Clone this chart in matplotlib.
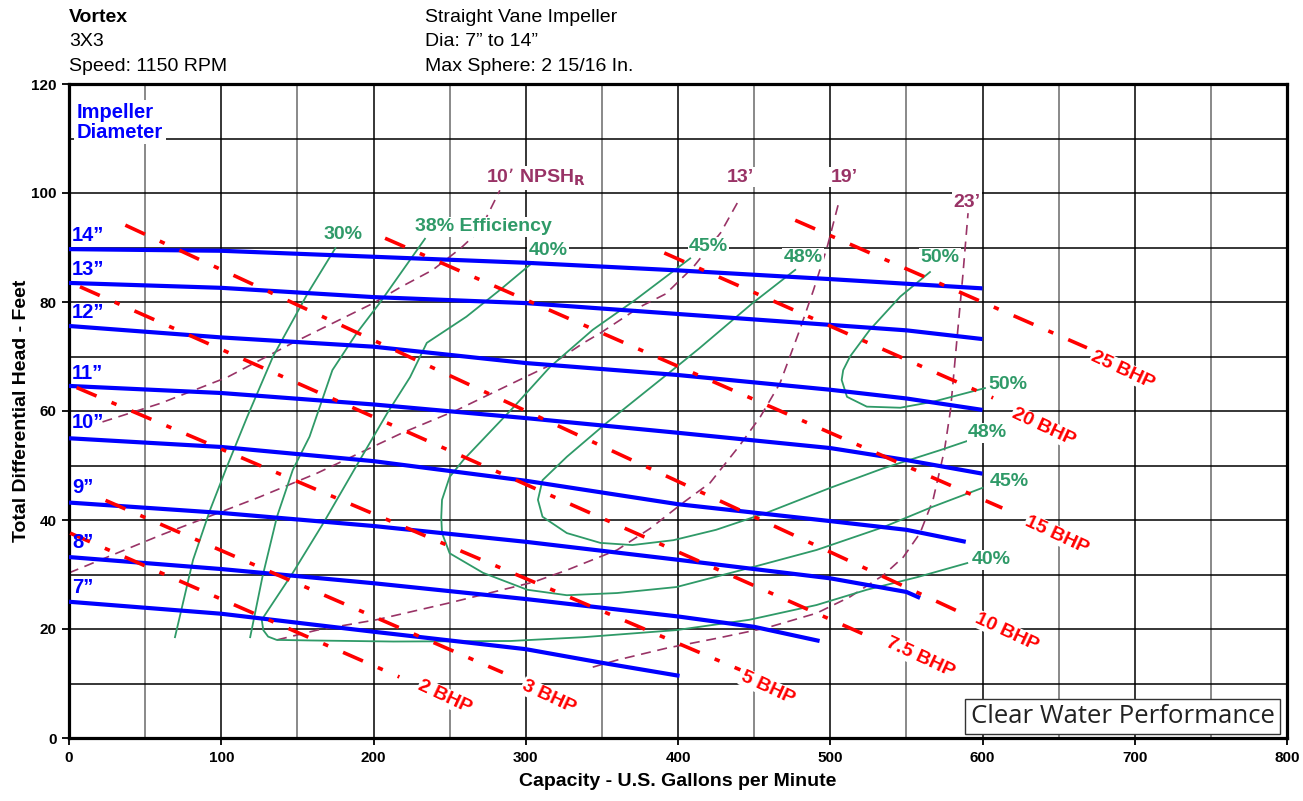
import matplotlib.pyplot as plt
import numpy as np

plt.rcParams['font.family'] = ['Liberation Sans', 'DejaVu Sans']

# impeller diameter curves: (gpm, head ft)
d14 = [(0, 89.7), (100, 89.4), (200, 88.3), (300, 87.2), (400, 85.8), (500, 84.2), (600, 82.5)]
d13 = [(0, 83.5), (100, 82.6), (200, 80.9), (300, 79.8), (400, 77.8), (500, 75.8), (550, 74.8), (600, 73.2)]
d12 = [(0, 75.6), (100, 73.5), (200, 71.8), (300, 68.8), (400, 66.6), (500, 63.9), (550, 62.3), (600, 60.2)]
d11 = [(0, 64.6), (100, 63.3), (200, 61.2), (300, 58.7), (400, 56.0), (500, 53.2), (550, 51.0), (600, 48.5)]
d10 = [(0, 55.0), (100, 53.4), (200, 50.8), (300, 47.2), (400, 42.9), (500, 39.8), (550, 38.2), (589, 36.0)]
d9 = [(0, 43.2), (100, 41.3), (200, 38.9), (300, 36.0), (400, 32.7), (500, 29.3), (550, 26.8), (559, 25.7)]
d8 = [(0, 33.2), (100, 31.0), (200, 28.4), (300, 25.5), (400, 22.3), (450, 20.4), (493, 17.8)]
d7 = [(0, 25.0), (100, 22.8), (200, 19.5), (300, 16.3), (350, 13.8), (401, 11.4)]
diameters = [d14, d13, d12, d11, d10, d9, d8, d7]
dia_names = ['14”', '13”', '12”', '11”', '10”', '9”', '8”', '7”']
dia_label_y = [92.2, 86.0, 78.0, 66.9, 57.9, 46.0, 35.9, 27.7]

# brake horsepower lines (start, end)
bhp_names = ['2 BHP', '3 BHP', '5 BHP', '7.5 BHP', '10 BHP', '15 BHP', '20 BHP', '25 BHP']
bhp_lines = [((0.7, 37.6), (217, 11.2)), ((24, 43.6), (285, 12.0)), ((5, 64.3), (441, 12.5)),
             ((7.2, 82.8), (528, 18.3)), ((37, 94.1), (592, 22.2)), ((207.6, 91.7), (613, 42.2)),
             ((391, 89.0), (607, 62.4)), ((477, 95.0), (668.6, 71.6))]
bhp_label_xy = [(247, 7.5), (315, 7.5), (459, 9.2), (559, 14.7), (616, 19.4), (649, 37.2),
                (640, 57.0), (692, 67.5)]

# efficiency curves
e30 = [(175, 89.9), (157, 81.7), (134, 70), (117, 58.9), (103.6, 49.7), (92.6, 41.8), (81.5, 32.7), (69.6, 18.5)]
e38 = [(233.8, 91.6), (204, 79.8), (189, 74.3), (173, 67.5), (158, 55.3), (147, 49.2), (136.6, 40.6),
       (127, 29.5), (119, 18.5)]
e40 = [(304.8, 87.3), (283, 82.2), (261, 77.3), (235, 72.5), (224, 66.2), (209, 59.6), (191, 51),
       (167, 39.4), (147, 30.3), (126.6, 21.7), (127.6, 19.8), (130.8, 18.6), (136.4, 18.0), (158, 17.9),
       (213, 17.7), (290, 17.8), (338, 18.5), (399, 19.8), (447, 21.7), (491, 24.4), (524, 27.2),
       (557, 29.5), (590, 32.1)]
e45 = [(408, 88), (372, 80.4), (344, 74.9), (316, 68.1), (292, 60.7), (259, 51), (250, 47.9), (245, 43.7),
       (244.5, 40.5), (245, 37.6), (250, 33.9), (272, 30.3), (301, 27.2), (327, 26.2), (360, 26.6),
       (399, 27.7), (447, 31.2), (491, 34.5), (535, 38.7), (567, 42.4), (600, 45.9)]
e48 = [(477, 85.9), (449, 79.8), (414, 71.5), (399, 68.1), (353, 57.8), (327, 51.6), (311, 47.3),
       (308, 43.7), (311, 40.6), (327, 37.6), (349, 35.8), (370, 35.4), (397, 36.3), (425, 38.2),
       (458, 41.3), (500, 45.9), (535, 49.5), (572, 52.8), (590, 54.5)]
e50 = [(565.5, 85.5), (546, 81), (526, 74.9), (513, 70), (508.5, 67.5), (507.5, 65.7), (511, 62.6),
       (524, 60.8), (546, 60.6), (567.5, 61.7), (601.6, 64.2)]
eff_curves = [e30, e38, e40, e45, e48, e50]

# NPSHr curves
n10 = [(22, 58.0), (60, 61.4), (104, 66.2), (147, 72.5), (200, 79.8), (217, 82.6), (239, 85.9),
       (257, 89.8), (270, 93.2), (283, 100.5)]
n13 = [(0, 30.3), (60, 37.2), (125, 44.2), (163, 48.6), (219, 56), (255, 60.2), (298, 66), (316, 68.4),
       (338, 72.5), (349, 74.3), (375, 79.1), (392, 81.5), (410, 86.4), (428, 92.7), (439, 98.2)]
n19 = [(136.6, 18), (163, 19.8), (202, 21.7), (250, 24.8), (305, 28.6), (327, 30.8), (360, 34.5),
       (382, 38.5), (403, 43.1), (421, 46.8), (440, 53.5), (454, 58.9), (467, 65.1), (480, 74.9),
       (489, 82.2), (498, 90.1), (506, 98.7)]
n23 = [(344, 13), (360, 14.3), (392.7, 16.5), (425.6, 18.3), (458, 20.2), (491, 22.9), (513, 25.9),
       (535, 29.9), (548, 33.2), (559, 37.6), (567.5, 43.7), (575, 52.8), (579, 60.2), (583, 72.5),
       (587, 84.6), (590.5, 96.3)]
npsh_curves = [n10, n13, n19, n23]

BLUE = '#0000ff'
RED = '#ff0000'
GREEN = '#2f9a68'
PURPLE = '#993366'
white = dict(facecolor='white', edgecolor='none', pad=1.0)

fig = plt.figure(figsize=(13.03, 8.01), dpi=100)
ax = fig.add_axes([69 / 1303, 63 / 801, 1218 / 1303, 654 / 801])
ax.set_xlim(0, 800)
ax.set_ylim(0, 120)

ax.set_xticks(np.arange(0, 801, 100))
ax.set_xticks(np.arange(50, 800, 100), minor=True)
ax.set_yticks(np.arange(0, 121, 20))
ax.set_yticks(np.arange(10, 120, 20), minor=True)
ax.grid(True, which='major', color='black', lw=1.1, zorder=0)
ax.grid(True, which='minor', axis='x', color='#808080', lw=1.3, zorder=0)
ax.grid(True, which='minor', axis='y', color='black', lw=1.1, zorder=0)
ax.set_axisbelow(True)
ax.tick_params(which='major', direction='out', length=5, width=1.3, labelsize=11, pad=4)
ax.tick_params(which='minor', length=0)
for lab in ax.get_xticklabels() + ax.get_yticklabels():
    lab.set_fontweight('bold')
for sp in ax.spines.values():
    sp.set_linewidth(2.3)

ax.set_xlabel('Capacity - U.S. Gallons per Minute', fontsize=14, fontweight='bold', labelpad=6)
ax.set_ylabel('Total Differential Head - Feet', fontsize=14, fontweight='bold', labelpad=1)

# NPSH
for c in npsh_curves:
    q, h = zip(*c)
    ax.plot(q, h, color=PURPLE, lw=1.2, ls=(0, (6, 4)), zorder=2)

# efficiency
for c in eff_curves:
    q, h = zip(*c)
    ax.plot(q, h, color=GREEN, lw=1.3, zorder=3)

# impeller curves
for c in diameters:
    q, h = zip(*c)
    ax.plot(q, h, color=BLUE, lw=3, zorder=4, solid_capstyle='butt')
for name, y in zip(dia_names, dia_label_y):
    ax.text(2, y, name, color=BLUE, fontsize=14.5, fontweight='bold', ha='left', va='center',
            zorder=6)

# BHP
for (p0, p1), name, (lx, ly) in zip(bhp_lines, bhp_names, bhp_label_xy):
    ax.plot([p0[0], p1[0]], [p0[1], p1[1]], color=RED, lw=2.6, ls=(0, (6, 4.5, 1.5, 4.5)), zorder=5)
    ax.text(lx, ly, name, color=RED, fontsize=14, fontweight='bold', rotation=-25,
            rotation_mode='anchor', ha='center', va='center', zorder=7,
            bbox=dict(facecolor='white', edgecolor='none', pad=0.5))

# efficiency labels
eff_labels = [('30%', 180, 92.3, 'center'), ('38% Efficiency', 272, 93.8, 'center'),
              ('40%', 314.6, 89.5, 'center'), ('45%', 420, 90.1, 'center'),
              ('48%', 482, 88.1, 'center'), ('50%', 572, 88.1, 'center'),
              ('50%', 603.6, 64.8, 'left'), ('48%', 590.5, 56.0, 'left'),
              ('45%', 605, 47.0, 'left'), ('40%', 593, 32.7, 'left')]
for t, x, y, ha in eff_labels:
    ax.text(x, y, t, color=GREEN, fontsize=14, fontweight='bold', ha=ha, va='center',
            zorder=6, bbox=white)

# NPSH labels
npsh_labels = [('10’ NPSH$_\\mathbf{R}$', 274, 102.8, 'left'), ('13’', 441, 102.9, 'center'),
               ('19’', 509, 102.9, 'center'), ('23’', 590, 98.3, 'center')]
for t, x, y, ha in npsh_labels:
    ax.text(x, y, t, color=PURPLE, fontsize=14, fontweight='bold', ha=ha, va='center',
            zorder=6, bbox=white)

ax.text(5, 113, 'Impeller\nDiameter', color=BLUE, fontsize=14.5, fontweight='bold', ha='left',
        va='center', linespacing=1.05, zorder=6,
        bbox=dict(facecolor='white', edgecolor='none', pad=2))

ax.text(692, 3.9, 'Clear Water Performance', fontsize=18.5, family='Open Sans', color='#222222',
        ha='center', va='center', zorder=8,
        bbox=dict(facecolor='white', edgecolor='#333333', lw=1, boxstyle='square,pad=0.2'))

# header
fig.text(69 / 1303, 1 - 22 / 801, 'Vortex', fontsize=14, fontweight='bold', va='baseline')
fig.text(69 / 1303, 1 - 46 / 801, '3X3', fontsize=14, va='baseline')
fig.text(69 / 1303, 1 - 71 / 801, 'Speed: 1150 RPM', fontsize=14, va='baseline')
fig.text(425 / 1303, 1 - 22 / 801, 'Straight Vane Impeller', fontsize=14, va='baseline')
fig.text(425 / 1303, 1 - 46 / 801, 'Dia: 7” to 14”', fontsize=14, va='baseline')
fig.text(425 / 1303, 1 - 71 / 801, 'Max Sphere: 2 15/16 In.', fontsize=14, va='baseline')

fig.savefig('out.png', dpi=100)
